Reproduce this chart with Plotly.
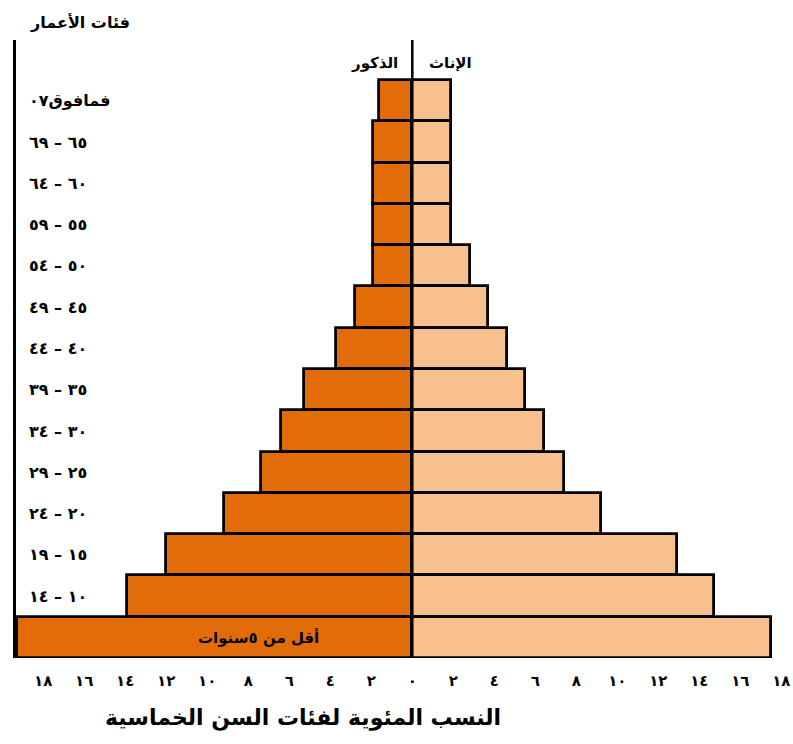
import plotly.graph_objects as go

LRI, RLI, PDI = "\u2066", "\u2067", "\u2069"


def rng(a, b):
    # two Arabic-Indic numbers joined by a dash, kept in left-to-right order
    return f"{LRI}{a}{PDI} – {LRI}{b}{PDI}"


# Age groups, top of the pyramid first
age_groups = [f"{LRI}٠٧{PDI}{RLI}فمافوق{PDI}", rng("٦٩", "٦٥"), rng("٦٤", "٦٠"), rng("٥٩", "٥٥"),
              rng("٥٤", "٥٠"), rng("٤٩", "٤٥"), rng("٤٤", "٤٠"), rng("٣٩", "٣٥"), rng("٣٤", "٣٠"),
              rng("٢٩", "٢٥"), rng("٢٤", "٢٠"), rng("١٩", "١٥"), rng("١٤", "١٠"), "أقل من ٥سنوات"]
# Percentage share of each age group
males = [1.6, 1.9, 1.9, 1.9, 1.9, 2.8, 3.7, 5.3, 6.4, 7.4, 9.2, 12.0, 13.9, 19.3]
females = [1.9, 1.9, 1.9, 1.9, 2.8, 3.7, 4.6, 5.5, 6.4, 7.4, 9.2, 12.9, 14.7, 17.5]
x_ticks = [-18, -16, -14, -12, -10, -8, -6, -4, -2, 0, 2, 4, 6, 8, 10, 12, 14, 16, 18]

male_name = "الذكور"
female_name = "الإناث"
y_title = "فئات الأعمار"
x_title = "النسب المئوية لفئات السن الخماسية"

MALE_COLOR = "#E36C0A"
FEMALE_COLOR = "#F9C08F"
FONT = "DejaVu Sans"

ARABIC_DIGITS = str.maketrans("0123456789", "٠١٢٣٤٥٦٧٨٩")


def arabic_num(v):
    return str(abs(v)).translate(ARABIC_DIGITS)


# bottom-to-top order used on the vertical axis
bottom_up = age_groups[::-1]

fig = go.Figure()
fig.add_trace(go.Bar(
    y=age_groups, x=[-v for v in males], orientation="h", name=male_name,
    marker=dict(color=MALE_COLOR, line=dict(color="black", width=2.8)),
    customdata=males, hovertemplate="%{y}: %{customdata}%<extra>" + male_name + "</extra>",
))
fig.add_trace(go.Bar(
    y=age_groups, x=females, orientation="h", name=female_name,
    marker=dict(color=FEMALE_COLOR, line=dict(color="black", width=2.8)),
    hovertemplate="%{y}: %{x}%<extra>" + female_name + "</extra>",
))
# empty trace that carries the label axis drawn along the left spine
fig.add_trace(go.Scatter(x=[None], y=[None], yaxis="y2", showlegend=False, hoverinfo="skip"))

# Centre divider between the two halves
fig.add_shape(type="line", xref="x", yref="paper", x0=0, x1=0, y0=0, y1=1,
              line=dict(color="black", width=2.5), layer="above")

bold = dict(family=FONT, size=15, color="black", weight="bold")
centered = dict(showarrow=False, xanchor="center", yanchor="middle")

# Youngest group is labelled inside its bar
fig.add_annotation(x=-7.5, y=age_groups[-1], xref="x", yref="y", text=age_groups[-1],
                   font=bold, **centered)
fig.add_annotation(x=-1.85, y=0.963, xref="x", yref="paper", text=male_name,
                   font=bold, **centered)
fig.add_annotation(x=1.85, y=0.963, xref="x", yref="paper", text=female_name,
                   font=bold, **centered)
fig.add_annotation(x=0.082, y=1.029, xref="paper", yref="paper", text=y_title,
                   font=dict(family=FONT, size=16, color="black", weight="bold"), **centered)
fig.add_annotation(x=0.369, y=-0.097, xref="paper", yref="paper", text=x_title,
                   font=dict(family=FONT, size=22, color="black", weight="bold"), **centered)

fig.update_layout(
    width=793, height=744,
    margin=dict(l=16, r=0, t=40, b=86),
    plot_bgcolor="white", paper_bgcolor="white",
    barmode="overlay", bargap=0,
    showlegend=False,
    font=dict(family=FONT, color="black"),
)
fig.update_xaxes(
    range=[-19.33, 18.57],
    tickvals=x_ticks, ticktext=[arabic_num(v) for v in x_ticks],
    tickfont=bold, ticks="", showgrid=False, zeroline=False, showline=False,
    ticklabelstandoff=12, ticklabeloverflow="allow",
)
fig.update_yaxes(
    categoryorder="array", categoryarray=bottom_up,
    range=[-0.5, 14.47],
    showticklabels=False, ticks="",
    showgrid=False, zeroline=False,
    showline=True, linecolor="black", linewidth=3,
)
# Age-group labels sit just right of the left spine
fig.update_layout(yaxis2=dict(
    overlaying="y", side="right", anchor="free", position=0,
    range=[-0.5, 14.47],
    tickvals=list(range(1, len(bottom_up))), ticktext=bottom_up[1:],
    tickfont=dict(family=FONT, size=16, color="black", weight="bold"),
    ticks="", ticklabelstandoff=12,
    showgrid=False, zeroline=False, showline=False,
))

fig.write_html("out.html")
